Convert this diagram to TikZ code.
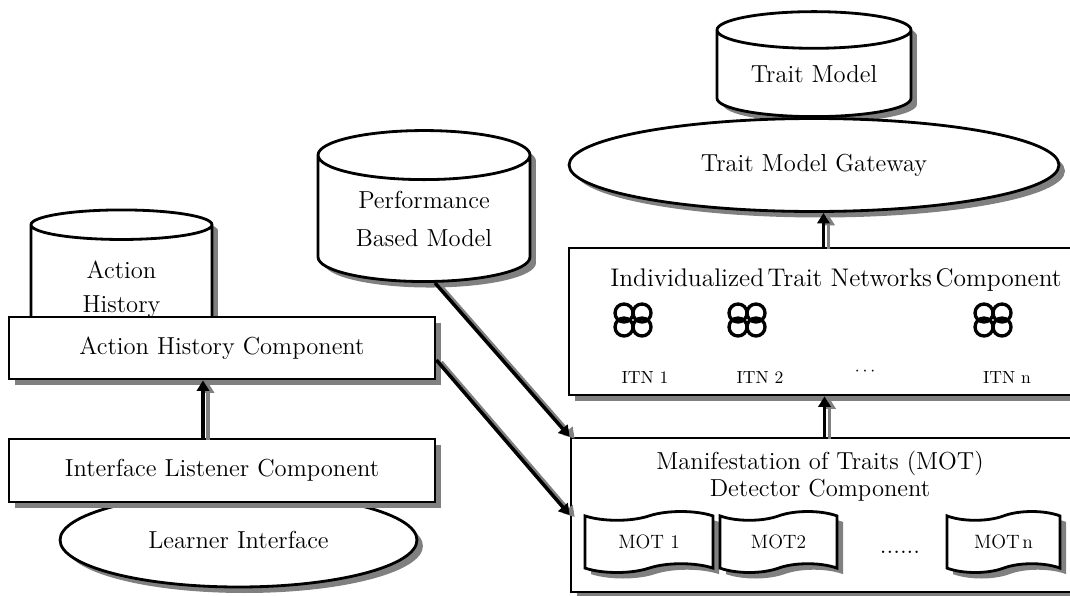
\documentclass[tikz,border=0pt]{standalone}
\usepackage{fontspec}
\usetikzlibrary{shapes.geometric,shapes.symbols,shadows,arrows.meta,positioning}
\begin{document}
\begin{tikzpicture}[x=0.02cm,y=-0.02cm,>={Triangle[width=7pt,length=6pt]},
dshadow/.style = {drop shadow={shadow xshift=0.12cm,shadow yshift=-0.12cm,fill=gray,opacity=1}},
box/.style = {draw, fill = white, line width = 1.6pt, dshadow, inner sep = 0pt, font = \fontsize{14}{17}\selectfont},
db/.style = {box, cylinder, shape border rotate = 90, align = center},
oval/.style = {box, ellipse},
doc/.style = {box, tape, minimum height = 1.22cm, font = \fontsize{11}{13}\selectfont},
lbl/.style = {font = \fontsize{10}{12}\selectfont},
arr/.style = {->, line width = 2pt, preaction = {draw = gray, ->, line width = 2pt, transform canvas = {xshift = 0.1cm, yshift = -0.04cm}}},
itnicon/.pic = {\foreach \a/\b in {1/1,1/-1,-1/1,-1/-1} \draw[line width = 1.9pt] (\a*0.18cm,\b*0.14cm) circle (0.18cm);}]
\useasboundingbox (0,0) rectangle (1070,595);
\node (AH) at (121.5,289)[db, aspect = 0.38, minimum width = 3.62cm, minimum height = 2.84cm, font = \fontsize{14}{19.3}\selectfont] {Action\\History};
\node (AHC) at (222,348)[box, minimum width = 8.52cm, minimum height = 1.24cm] {Action History Component};
\node (LI) at (238.5,540)[oval, minimum width = 7.14cm, minimum height = 1.88cm] {Learner Interface};
\node (ILC) at (222,470.5)[box, minimum width = 8.52cm, minimum height = 1.26cm] {Interface Listener Component};
\node (PBM) at (424,219)[db, aspect = 0.36, minimum width = 4.24cm, minimum height = 3.02cm, font = \fontsize{14}{21.5}\selectfont] {Performance\\Based Model};
\node (TM) at (814,74)[db, aspect = 0.29, minimum width = 3.88cm, minimum height = 2.1cm] {Trait Model};
\node (TMG) at (814,165)[oval, minimum width = 9.8cm, minimum height = 1.86cm] {Trait Model Gateway};
\node (ITN) at (823.5,321.5)[box, minimum width = 10.18cm, minimum height = 2.94cm] {};
\node (MOT) at (824.5,515)[box, minimum width = 10.14cm, minimum height = 3.08cm] {};
\node (ITNt) at (836,280)[font = \fontsize{14.5}{17}\selectfont] {Individualized\kern2pt Trait Networks\kern2pt Component};
\foreach \x in {633,747,993} \pic at (\x,320) {itnicon};
\node (ITN1) at (645,377)[lbl] {ITN 1};
\node (ITN2) at (760,377)[lbl] {ITN 2};
\node (ITNd) at (865,372)[lbl] {$\cdots$};
\node (ITNn) at (1007,377)[lbl] {ITN n};
\node (MOTt) at (820,476)[align = center, font = \fontsize{14}{15.5}\selectfont] {Manifestation of Traits (MOT)\\Detector Component};
\node (MOT1) at (649,542)[doc, minimum width = 2.56cm] {MOT 1};
\node (MOT2) at (778.5,542)[doc, minimum width = 2.34cm] {MOT2};
\node (MOTd) at (900,552)[font = \fontsize{14}{16}\selectfont] {......};
\node (MOTn) at (1003.5,542)[doc, minimum width = 2.26cm] {MOT\kern1.5pt n};
\draw[arr] ([xshift = -0.38cm]ILC.north) -- ([xshift = -0.38cm]AHC.south);
\draw[arr] (ITN.north) -- (ITN.north |- TMG.south);
\draw[arr] (MOT.north) -- (MOT.north |- ITN.south);
\draw[arr] ([xshift = 0.22cm]PBM.south) -- (MOT.north west);
\draw[arr] ([yshift = -0.24cm]AHC.east) -- (MOT.west);
\end{tikzpicture}
\end{document}
